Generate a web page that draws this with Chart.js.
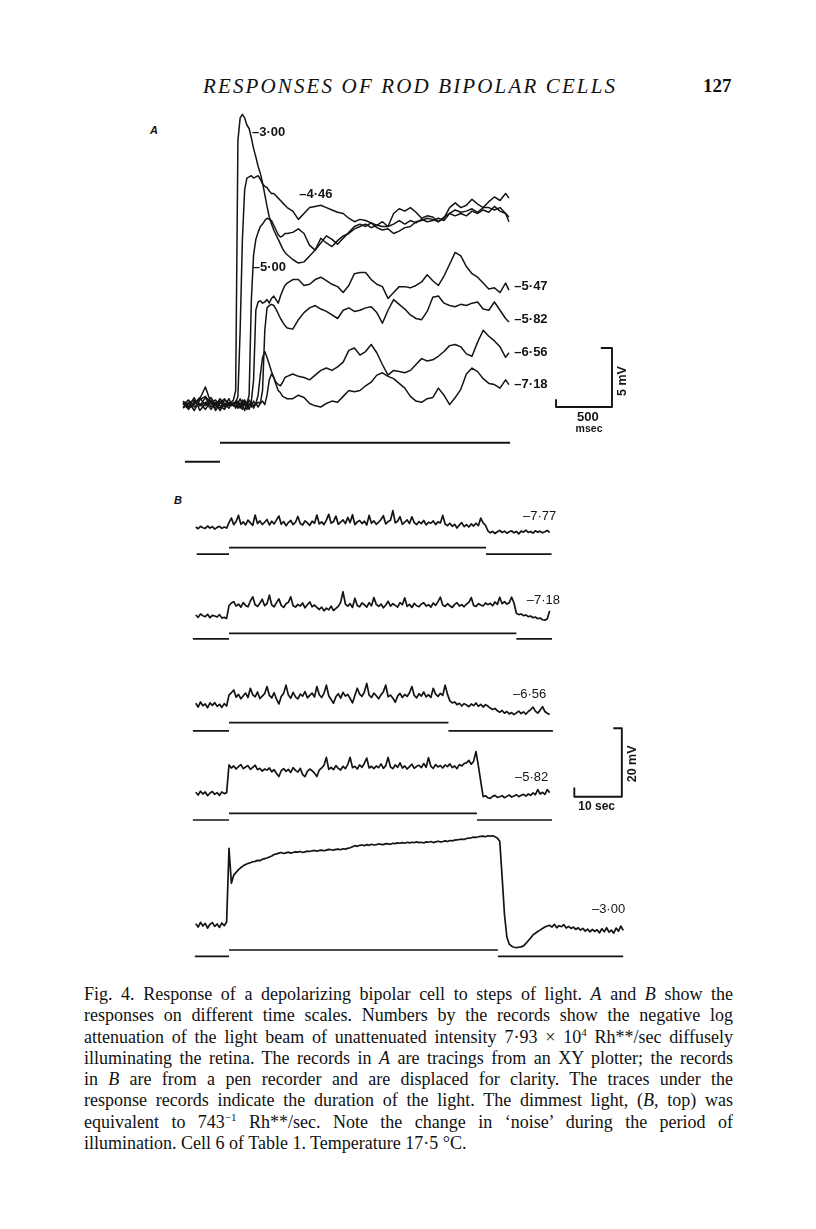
<!DOCTYPE html>
<html><head><meta charset="utf-8">
<script src="https://cdn.jsdelivr.net/npm/chart.js@4.4.1/dist/chart.umd.min.js"></script>
<style>
html,body{margin:0;padding:0;background:#fff;}
body{width:816px;height:1229px;position:relative;overflow:hidden;color:#111;font-family:"Liberation Serif","Times New Roman",serif;}
canvas{position:absolute;}
.abs{position:absolute;white-space:nowrap;}
#hdr{left:203px;top:74px;font-style:italic;font-size:21px;line-height:24px;}
#pg{left:703px;top:75px;font-weight:bold;font-size:19px;line-height:22px;}
.panel{font-family:"Liberation Sans",Arial,sans-serif;font-style:italic;font-weight:bold;font-size:11px;}
#cap{left:84px;top:984px;width:649px;font-size:18px;line-height:21.3px;}
#cap div{white-space:nowrap;height:21.3px;line-height:21.3px;}
#cap sup{font-size:11px;line-height:0;vertical-align:baseline;position:relative;top:-7px;}
</style></head><body>

<div id="hdr" class="abs">RESPONSES OF ROD BIPOLAR CELLS</div>
<div id="pg" class="abs">127</div>
<div class="abs panel" style="left:150px;top:124px;">A</div>
<div class="abs panel" style="left:174px;top:494px;">B</div>

<canvas id="cA" width="500" height="380" style="left:150px;top:95px;"></canvas>
<canvas id="cB0" width="500" height="65" style="left:150px;top:500px;"></canvas>
<canvas id="cB1" width="500" height="70" style="left:150px;top:580px;"></canvas>
<canvas id="cB2" width="500" height="70" style="left:150px;top:670px;"></canvas>
<canvas id="cB3" width="500" height="105" style="left:150px;top:722px;"></canvas>
<canvas id="cB4" width="500" height="135" style="left:150px;top:830px;"></canvas>

<div id="cap" class="abs">
<div class="j">Fig. 4. Response of a depolarizing bipolar cell to steps of light. <i>A</i> and <i>B</i> show the</div>
<div class="j">responses on different time scales. Numbers by the records show the negative log</div>
<div class="j">attenuation of the light beam of unattenuated intensity 7·93 × 10<sup>4</sup> Rh**/sec diffusely</div>
<div class="j">illuminating the retina. The records in <i>A</i> are tracings from an XY plotter; the records</div>
<div class="j">in <i>B</i> are from a pen recorder and are displaced for clarity. The traces under the</div>
<div class="j">response records indicate the duration of the light. The dimmest light, (<i>B</i>, top) was</div>
<div class="j">equivalent to 743<sup>−1</sup> Rh**/sec. Note the change in ‘noise’ during the period of</div>
<div>illumination. Cell 6 of Table 1. Temperature 17·5 °C.</div>
</div>

<script>
// ---------------- Panel A (XY plotter), time in ms from light onset, voltage in mV ----------------
const timeA = [-330,-280,-230,-180,-130,-80,-40,0,40,80,100,
 120,140,160,180,200,220,240,260,280,300,320,340,360,380,400,420,440,460,480,500,520,540,560,580,600,
 650,700,750,800,850,900,950,1000,1050,1100,1150,1200,1250,1300,1350,1400,1450,1500,1550,1600,
 1650,1700,1750,1800,1850,1900,1950,2000,2050,2100,2150,2200,2250,2300,2350,2400,2450,2500,2550,2580];

const attenA = ['–3·00','–4·46','–5·00','–5·47','–5·82','–6·56','–7·18'];

const vA300 = [0.3,-0.2,0.5,0.1,0.8,0.0,0.4,-0.3,0.3,0.2,0.4,
 0.6,1.4,22.6,24.5,24.8,24.5,23.9,23.6,22.8,21.9,21.2,20.4,19.8,19.0,18.0,17.0,16.1,15.5,15.0,14.6,14.2,13.8,13.4,13.1,12.9,
 12.5,12.2,12.3,12.8,13.3,13.9,14.5,14.2,13.8,14.3,14.8,15.3,15.5,15.3,15.6,15.2,15.0,15.1,14.7,14.9,
 15.2,15.3,15.7,15.8,16.0,15.9,15.7,16.1,16.4,16.7,16.5,16.6,16.8,16.5,16.9,16.9,16.7,16.9,16.4,15.7];
const vA446 = [0.0,0.4,-0.3,0.6,0.9,0.3,-0.1,0.5,0.1,0.7,0.3,
 0.3,0.4,0.9,6.5,14.2,18.4,19.4,19.5,19.6,19.4,19.5,19.6,19.3,18.9,18.7,18.6,18.3,18.1,18.1,17.9,17.7,17.5,17.3,17.1,16.9,
 16.6,15.9,16.4,16.9,17.0,17.1,16.9,16.7,16.5,16.4,16.0,15.7,15.9,15.8,15.6,15.4,15.3,15.3,16.4,16.8,
 16.6,16.9,16.5,16.0,16.2,16.1,15.7,16.0,16.9,17.3,16.9,17.1,17.6,17.2,16.9,17.4,17.8,17.5,18.1,17.7];
const vA500 = [0.3,-0.1,0.2,0.7,1.7,0.3,0.6,0.1,-0.2,0.4,0.2,
 0.1,0.4,-0.1,0.3,0.2,0.5,0.3,1.0,9.1,12.9,14.2,14.8,15.3,15.5,15.8,16.0,15.9,15.8,15.4,15.0,14.6,14.4,14.5,14.7,14.7,
 14.8,15.1,14.7,13.7,13.3,14.3,13.9,13.6,14.1,14.5,14.7,15.1,15.3,15.5,15.2,15.4,15.7,15.3,15.5,15.8,
 15.5,15.8,15.6,15.9,15.7,15.8,16.0,15.8,16.4,16.2,16.4,16.2,16.6,16.4,16.7,16.5,17.0,16.6,16.4,16.1];
const vA547 = [0.5,0.1,0.8,-0.3,0.3,0.8,0.2,-0.1,0.6,0.3,0.1,
 0.4,0.0,0.3,0.7,0.2,-0.3,0.3,0.1,0.5,2.3,8.2,8.9,9.0,8.8,8.9,9.1,8.8,9.2,9.4,9.1,8.8,9.4,9.9,10.3,10.5,
 10.8,10.8,10.3,10.4,10.8,11.0,10.7,10.4,10.2,9.7,10.3,11.3,11.4,11.4,10.8,10.4,10.2,9.2,9.7,10.2,
 10.2,10.1,10.3,10.6,11.2,10.7,10.3,11.1,12.1,13.1,12.8,11.9,11.3,11.0,10.5,10.0,10.1,9.7,10.5,9.9];
const vA582 = [0.2,0.6,0.0,0.3,-0.2,0.5,0.1,0.7,0.3,-0.1,0.3,
 0.3,-0.1,0.4,0.1,0.6,0.2,-0.2,0.3,0.0,0.5,0.2,0.4,0.3,1.4,6.5,8.4,8.6,8.7,8.6,8.3,7.9,7.5,7.2,6.9,6.7,
 6.6,7.4,8.0,8.4,8.6,8.3,8.1,7.8,7.5,8.2,8.4,8.1,8.2,8.4,8.5,8.0,7.1,8.2,9.1,8.7,
 8.3,7.8,7.5,7.4,8.1,9.3,9.4,8.8,8.6,8.5,8.7,8.6,8.8,8.9,8.3,8.2,8.9,8.2,7.5,7.2];
const vA656 = [-0.1,0.3,0.6,0.1,0.4,-0.2,0.3,0.5,0.0,0.3,0.2,
 0.3,0.0,0.5,0.2,-0.2,0.4,0.1,0.6,0.3,-0.1,0.3,1.0,2.7,4.2,4.7,4.2,3.6,3.0,2.5,2.1,1.9,1.8,2.1,2.5,2.6,
 2.8,2.6,2.5,2.3,2.7,3.1,3.3,3.1,3.4,3.8,4.8,5.0,4.4,4.7,5.3,4.6,3.6,2.7,3.1,3.0,
 2.9,3.1,3.6,4.1,3.9,4.0,4.3,4.7,5.2,5.3,5.1,4.5,4.3,5.5,6.5,6.0,5.6,5.1,4.2,4.6];
const vA718 = [0.4,0.0,0.3,0.8,0.1,0.6,-0.3,0.3,0.7,0.1,0.3,
 0.1,0.5,0.3,-0.1,0.3,0.6,0.2,-0.2,0.4,0.1,0.3,0.0,0.3,0.5,0.2,1.0,2.3,2.8,2.5,1.9,1.4,1.2,0.9,0.8,0.7,
 0.7,1.0,0.8,0.3,0.1,0.0,0.3,0.5,0.4,0.9,1.4,1.3,1.4,1.8,2.1,2.7,2.9,2.6,2.4,2.0,
 1.6,0.9,0.5,0.4,0.7,0.8,1.6,1.0,0.2,0.8,1.5,2.8,3.3,3.0,2.4,2.0,1.9,1.6,2.3,1.9];

// light step in A (ms): marker starts, light on, light off
const lightA = [-313, 0, 2590];
// scale bar A
const scaleA_ms = 500, scaleA_mV = 5;

// ---------------- Panel B (pen recorder), time in s from light onset, mV from pre-light level ----------------
const attenB = ['–7·77','–7·18','–6·56','–5·82','–3·00'];
const sampleStartB = -7, sampleStepB = 0.5;   // pen record sampled every 0.5 s

const vB777 = [0.2,-0.3,0.4,0.0,-0.2,0.5,-0.1,0.3,-0.4,0.1,0.4,-0.2,0.2,-0.1,
 1.5,2.8,0.9,1.8,3.6,1.0,1.7,0.8,2.2,1.4,0.7,3.7,1.2,2.0,0.9,1.6,2.4,0.8,1.9,1.1,
 2.3,3.4,1.0,1.8,0.6,1.5,2.1,0.9,1.6,3.3,1.2,0.8,2.0,1.4,0.7,1.9,1.3,3.7,1.1,1.7,
 0.9,2.2,3.9,1.3,1.8,3.4,1.0,1.6,2.3,1.2,3.0,1.5,3.8,0.9,1.7,2.1,1.2,1.9,0.8,3.6,
 1.3,2.0,1.0,1.6,2.4,3.5,1.1,1.8,2.2,5.0,1.4,1.9,3.2,1.0,1.6,2.3,1.2,3.2,1.5,0.9,
 1.8,1.2,2.1,0.8,1.6,1.3,2.0,0.9,1.7,1.4,3.6,1.1,0.6,1.3,0.4,1.0,-0.1,0.8,1.5,0.3,
 0.9,0.2,1.1,0.5,1.3,0.6,2.8,1.4,0.7,
 -0.9,-1.5,-1.1,-1.7,-1.2,-0.8,-1.4,-1.0,-1.6,-1.2,-0.9,-1.5,-1.1,-1.8,-1.0,-1.3,-0.7,-1.4,-1.1,-1.6,-0.9,-1.3,-1.0,-1.5,-1.2,-0.8,-1.4];
const vB718 = [0.3,-0.4,0.6,0.1,-0.2,0.5,-0.5,0.2,0.0,-0.3,0.4,-0.6,-0.4,-0.7,
 3.0,3.8,4.2,2.9,3.5,2.6,3.9,3.1,2.7,4.4,5.6,3.3,2.8,3.7,4.9,3.0,3.6,6.1,3.2,2.7,
 3.9,5.0,3.1,2.5,3.6,4.0,5.6,3.0,2.6,3.4,2.9,3.8,2.4,3.3,4.1,2.7,3.2,2.5,1.9,2.6,
 1.5,2.3,1.8,2.9,1.6,2.2,2.8,4.0,7.1,3.5,2.9,3.6,2.5,5.2,3.1,2.7,3.8,3.3,2.6,3.9,
 3.0,5.4,3.4,2.8,3.5,2.4,3.2,4.3,2.9,3.6,3.1,2.6,3.9,3.3,5.3,2.8,3.4,2.5,3.7,3.0,
 2.7,3.5,3.9,2.9,3.3,2.6,3.8,3.1,4.2,5.5,3.2,2.8,3.6,3.0,2.5,3.4,3.9,2.9,3.3,2.7,
 3.5,4.0,5.4,3.1,2.8,3.6,3.2,2.9,3.8,3.3,3.7,3.0,4.1,3.4,5.5,3.6,4.2,3.5,3.9,5.5,3.8,
 0.8,0.4,0.6,0.1,0.3,-0.2,0.0,-0.5,-0.3,-0.8,-0.6,-1.1,-1.2,-0.9,1.5];
const vB656 = [0.5,-0.6,0.9,-0.2,0.3,-0.8,0.6,-0.1,0.7,-0.4,0.2,-0.7,0.4,-0.3,
 2.9,3.6,4.4,2.3,3.1,1.8,2.7,3.5,2.2,4.9,3.0,2.4,3.8,1.9,2.6,3.3,5.4,2.8,2.1,3.6,
 1.7,0.3,2.5,3.4,5.8,2.9,2.0,3.7,2.4,1.8,3.2,2.6,3.9,2.1,2.8,3.5,2.3,5.4,3.0,2.2,
 3.4,5.8,2.7,1.6,0.5,2.4,3.3,2.0,3.7,2.6,3.1,1.9,0.6,2.8,4.9,3.2,2.5,3.8,6.3,2.9,
 2.2,3.5,2.7,1.8,3.0,3.9,5.8,2.4,2.9,2.0,0.8,2.6,3.4,2.2,3.1,2.5,3.6,5.4,2.8,2.1,
 3.3,2.6,3.8,2.4,3.0,2.2,4.9,3.2,2.5,3.4,2.8,5.8,3.1,
 1.2,0.6,0.9,0.1,0.5,-0.3,0.4,0.0,-0.5,0.3,-0.2,0.6,-0.4,0.2,-0.6,0.1,-0.3,-0.9,-1.3,-1.0,
 -1.7,-2.1,-1.6,-2.4,-1.9,-2.6,-2.2,-2.8,-2.3,-1.8,-2.5,-2.0,-2.7,-1.9,-1.4,-0.6,-1.8,-2.4,-1.5,-0.5,
 -1.9,-2.4,-2.8];
const vB582 = [0.3,-0.5,0.6,-0.2,0.4,-0.7,0.1,0.5,-0.3,0.2,-0.6,0.4,-0.1,0.2,
 8.3,7.4,8.0,7.1,7.8,8.4,7.2,7.7,8.1,7.0,7.6,8.2,6.9,7.3,6.5,7.1,6.8,7.4,6.3,6.9,
 5.8,4.9,6.6,7.2,6.4,7.0,6.1,7.5,6.7,6.2,7.3,5.5,4.9,6.4,7.1,6.6,5.9,4.9,6.8,7.4,
 8.2,10.5,7.0,7.6,6.9,8.1,7.3,6.8,7.9,7.2,8.4,10.5,7.5,7.9,7.1,8.3,7.6,8.8,10.3,7.4,
 7.9,7.2,8.0,7.5,8.6,7.3,8.1,10.5,7.7,7.2,8.3,7.6,8.9,7.4,8.0,7.1,7.8,8.5,7.3,7.9,
 8.2,7.5,8.7,7.6,10.4,7.9,7.3,8.4,7.7,8.1,7.4,8.3,7.8,8.6,7.5,8.0,7.2,8.4,8.0,8.7,
 8.9,9.6,8.5,9.4,12.2,
 8.0,3.5,-1.0,-0.7,-1.3,-1.5,-0.9,-0.6,-1.2,-1.0,-0.7,-1.3,-0.9,-0.5,-1.1,-0.8,-0.4,-1.0,-0.6,-0.3,
 -0.8,-0.2,-0.6,0.1,-0.4,1.1,-0.2,0.3,-0.3,1.1,0.2];
const vB300 = [0.4,-0.6,0.8,-0.3,0.5,-0.9,0.2,0.7,-0.4,0.3,-0.7,0.6,-0.2,0.9,
 22.4,12.2,14.6,15.4,16.2,16.8,17.3,17.7,18.0,18.2,18.5,18.6,18.9,18.8,19.2,19.4,19.6,19.9,20.2,20.6,
 20.8,21.0,21.2,20.9,21.1,21.3,21.0,21.2,21.4,21.3,21.5,21.2,21.4,21.6,21.5,21.7,21.8,21.6,21.8,21.9,
 21.7,21.9,22.1,22.0,21.9,22.1,22.2,22.0,22.3,22.2,22.4,22.6,22.9,23.2,23.0,23.3,23.4,23.2,23.5,23.3,
 23.6,23.4,23.5,23.7,23.6,23.5,23.8,23.7,23.6,23.9,23.8,24.0,23.9,24.1,23.9,24.2,24.0,24.2,24.1,24.3,
 24.1,24.2,24.0,24.3,24.2,24.4,24.1,24.3,24.5,24.3,24.4,24.6,24.4,24.7,24.6,24.8,24.9,25.0,25.1,25.0,
 25.3,25.4,25.5,25.7,25.6,25.8,25.9,26.0,25.8,26.1,26.0,26.1,25.8,25.4,
 24.5,14.0,3.0,-3.5,-5.6,-6.2,-6.5,-6.6,-6.5,-6.4,-6.1,-5.4,-4.6,-3.8,-2.9,-2.4,-1.9,-1.5,-1.0,-0.6,-0.3,
 -0.1,-0.6,0.2,-0.8,-0.2,-0.5,0.1,-0.9,-0.4,-1.0,-0.6,-1.3,-0.8,-1.5,-1.0,-1.8,-1.2,-2.0,-1.3,-1.9,
 -1.4,-2.3,-1.1,-2.0,-0.8,-2.1,-1.5,-2.4,-0.9,-1.8,-0.3,-1.6];
const valuesB = [vB777, vB718, vB656, vB582, vB300];

// light marker for each B record (s): marker start, light on, light off, marker end
const lightStartB = [-6.8,-7.6,-7.6,-7.6,-7.2];
const lightOnB    = [0,0,0,0,0];
const lightOffB   = [54.1,60.5,46.2,52.2,56.6];
const lightEndB   = [67.9,68.0,68.2,68.0,83.0];
// scale bar B
const scaleB_s = 10, scaleB_mV = 20;

// ---------------- layout (pixels) ----------------
const INK = '#141414';
const LABEL_FONT_A = 'bold 13px "Liberation Sans", Arial, sans-serif';
const LABEL_FONT_B = '13px "Liberation Sans", Arial, sans-serif';
const layA = {w:500,h:380, x0px:70, pxPerMs:0.112, y0px:312, pxPerMV:11.8, stimOffPx:366.7, stimOnPx:347.7};
const layB = [
  {w:500,h:65,  base:27.7, on:47.7,  off:54.2},
  {w:500,h:70,  base:36,   on:53.3,  off:58.9},
  {w:500,h:70,  base:35,   on:52.7,  off:60.8},
  {w:500,h:105, base:71.3, on:91.3,  off:98},
  {w:500,h:135, base:95,   on:120,   off:126.4}
];
const B_x0px = 79, B_pxPerS = 4.75, B_pxPerMV = 3.42;

const textPlugin = {
  id:'textLabels',
  afterDatasetsDraw(chart, args, opts){
    const ctx = chart.ctx, xs = chart.scales.x, ys = chart.scales.y;
    (opts.items||[]).forEach(it=>{
      ctx.save();
      ctx.font = it.font; ctx.fillStyle = INK;
      ctx.textAlign = it.align||'left'; ctx.textBaseline = 'middle';
      ctx.translate(xs.getPixelForValue(it.x), ys.getPixelForValue(it.y));
      if(it.rot) ctx.rotate(it.rot);
      ctx.fillText(it.text, 0, 0);
      ctx.restore();
    });
  }
};
Chart.register(textPlugin);

function pts(xs, ys){ return ys.map((v,i)=>({x:xs[i], y:v})); }
function lineDS(data, w, axis){ return {data, borderColor:INK, borderWidth:w, pointRadius:0, tension:0, fill:false, yAxisID:axis||'y', borderJoinStyle:'round', borderCapStyle:'butt'}; }
function stimDS(start, on, off, end, w){
  const out = [lineDS([{x:start,y:0},{x:on,y:0}], w, 'ys'), lineDS([{x:on,y:1},{x:off,y:1}], w, 'ys')];
  if (end > off) out.push(lineDS([{x:off,y:0},{x:end,y:0}], w, 'ys'));
  return out;
}
function makeChart(id, datasets, xr, yr, sr, items){
  return new Chart(document.getElementById(id), {
    type:'line',
    data:{datasets},
    options:{
      responsive:false, animation:false, events:[],
      layout:{padding:0},
      scales:{
        x:{type:'linear', min:xr[0], max:xr[1], display:false},
        y:{type:'linear', min:yr[0], max:yr[1], display:false},
        ys:{type:'linear', axis:'y', min:sr[0], max:sr[1], display:false}
      },
      plugins:{legend:{display:false}, tooltip:{enabled:false}, textLabels:{items}}
    }
  });
}

// ---- Chart A ----
(function(){
  const L = layA;
  const xr = [-L.x0px/L.pxPerMs, (L.w-L.x0px)/L.pxPerMs];
  const yr = [-(L.h-L.y0px)/L.pxPerMV, L.y0px/L.pxPerMV];
  const sUnit = L.stimOffPx - L.stimOnPx;
  const sr = [-(L.h-L.stimOffPx)/sUnit, L.stimOffPx/sUnit];
  const series = [vA300, vA446, vA500, vA547, vA582, vA656, vA718];
  const ds = series.map(v => lineDS(pts(timeA, v), 1.5));
  ds.push(...stimDS(lightA[0], lightA[1], lightA[2], lightA[2], 1.9));
  const sx = 3000; // scale bar start (ms)
  ds.push(lineDS([{x:sx,y:0.6},{x:sx,y:0},{x:sx+scaleA_ms,y:0},{x:sx+scaleA_ms,y:scaleA_mV},{x:sx+scaleA_ms-100,y:scaleA_mV}], 1.9));
  const lblT = [286, 708, 292, 2628, 2628, 2628, 2628];
  const lblV = [23.3, 18.05, 11.8, 10.25, 7.46, 4.66, 1.95];
  const items = attenA.map((t,i)=>({text:t, x:lblT[i], y:lblV[i], font:LABEL_FONT_A}));
  items.push({text:String(scaleA_ms), x:sx+scaleA_ms*0.57, y:-0.85, font:'bold 13px "Liberation Sans", Arial, sans-serif', align:'center'});
  items.push({text:'msec', x:sx+scaleA_ms*0.59, y:-1.86, font:'bold 10.5px "Liberation Sans", Arial, sans-serif', align:'center'});
  items.push({text:scaleA_mV+' mV', x:sx+scaleA_ms+98, y:scaleA_mV*0.44, font:'bold 12.5px "Liberation Sans", Arial, sans-serif', align:'center', rot:-Math.PI/2});
  makeChart('cA', ds, xr, yr, sr, items);
})();

// ---- Charts B ----
const lblBT = [61.9, 62.7, 59.8, 60.2, 76.4];
const lblBV = [3.4, 4.7, 3.2, 4.7, 4.6];
valuesB.forEach((vals, k)=>{
  const L = layB[k];
  const xr = [-B_x0px/B_pxPerS, (L.w-B_x0px)/B_pxPerS];
  const yr = [-(L.h-L.base)/B_pxPerMV, L.base/B_pxPerMV];
  const sUnit = L.off - L.on;
  const sr = [-(L.h-L.off)/sUnit, L.off/sUnit];
  const tB = vals.map((_,i)=> sampleStartB + i*sampleStepB);
  const ds = [lineDS(pts(tB, vals), 1.7)];
  ds.push(...stimDS(lightStartB[k], lightOnB[k], lightOffB[k], lightEndB[k], 1.7));
  const items = [{text:attenB[k], x:lblBT[k], y:lblBV[k], font:LABEL_FONT_B}];
  if (k === 3) {
    const bx = 72.7, by = -1;
    ds.push(lineDS([{x:bx,y:by+2.5},{x:bx,y:by},{x:bx+scaleB_s,y:by},{x:bx+scaleB_s,y:by+scaleB_mV},{x:bx+scaleB_s-1.8,y:by+scaleB_mV}], 1.9));
    items.push({text:scaleB_s+' sec', x:bx+scaleB_s*0.47, y:by-3.0, font:'bold 12px "Liberation Sans", Arial, sans-serif', align:'center'});
    items.push({text:scaleB_mV+' mV', x:bx+scaleB_s+2.2, y:by+scaleB_mV*0.48, font:'bold 12.5px "Liberation Sans", Arial, sans-serif', align:'center', rot:-Math.PI/2});
  }
  makeChart('cB'+k, ds, xr, yr, sr, items);
});

// ---- text fitting ----
(function(){
  const hdr = document.getElementById('hdr');
  const w = hdr.getBoundingClientRect().width, n = hdr.textContent.length;
  hdr.style.letterSpacing = ((412 - w)/(n-1)) + 'px';
  document.querySelectorAll('#cap .j').forEach(d=>{
    d.style.display='inline-block';
    const nat = d.getBoundingClientRect().width;
    const spaces = (d.textContent.match(/ /g)||[]).length;
    d.style.display='block';
    if (spaces) d.style.wordSpacing = ((649 - nat)/spaces) + 'px';
  });
})();
</script>
</body></html>
